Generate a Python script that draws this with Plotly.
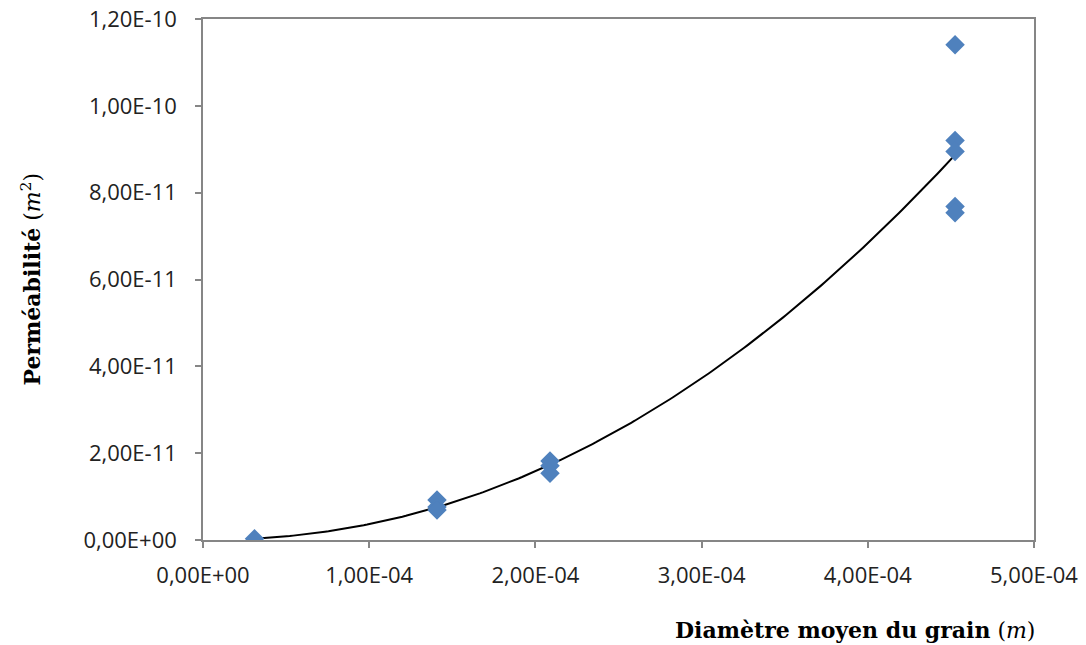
import numpy as np
import plotly.graph_objects as go

# Data
diametre = [3.1e-5,
            1.408e-4, 1.408e-4, 1.408e-4,
            2.088e-4, 2.088e-4, 2.088e-4,
            4.525e-4, 4.525e-4, 4.525e-4, 4.525e-4, 4.525e-4]
permeabilite = [0.3e-12,
                9.2e-12, 7.6e-12, 6.9e-12,
                18.2e-12, 17.1e-12, 15.4e-12,
                114.1e-12, 92.0e-12, 89.5e-12, 76.8e-12, 75.4e-12]

x_ticks = [0, 1e-4, 2e-4, 3e-4, 4e-4, 5e-4]
x_tick_labels = ["0,00E+00", "1,00E-04", "2,00E-04", "3,00E-04", "4,00E-04", "5,00E-04"]
y_ticks = [0, 2e-11, 4e-11, 6e-11, 8e-11, 1e-10, 1.2e-10]
y_tick_labels = ["0,00E+00", "2,00E-11", "4,00E-11", "6,00E-11", "8,00E-11", "1,00E-10", "1,20E-10"]

# Power trendline (as Excel's) fitted on the data
xd = np.array(diametre)
yd = np.array(permeabilite)
b, ln_a = np.polyfit(np.log(xd), np.log(yd), 1)
xt = np.linspace(xd.min(), xd.max(), 200)
yt = np.exp(ln_a) * xt ** b

fig = go.Figure()
fig.add_trace(go.Scatter(x=xt, y=yt, mode="lines",
                         line=dict(color="black", width=2), hoverinfo="skip"))
fig.add_trace(go.Scatter(x=diametre, y=permeabilite, mode="markers",
                         marker=dict(symbol="diamond", size=15, color="#4F81BD",
                                     line=dict(width=0))))

axis_common = dict(showline=True, linecolor="#868686", linewidth=1.5, mirror=True,
                   ticks="outside", ticklen=6, tickcolor="#868686", tickwidth=1.5,
                   showgrid=False, zeroline=False, ticklabeloverflow="allow",
                   automargin=False,
                   tickfont=dict(family="Open Sans, Liberation Sans, sans-serif",
                                 size=22, color="#222"))

fig.update_xaxes(range=[0, 5.0001e-4], tickvals=x_ticks, ticktext=x_tick_labels,
                 ticklabelstandoff=9, **axis_common)
fig.update_yaxes(range=[0, 1.20012e-10], tickvals=y_ticks, ticktext=y_tick_labels,
                 ticklabelstandoff=14, **axis_common)

serif = "DejaVu Serif, Liberation Serif, serif"
fig.add_annotation(xref="paper", yref="paper", x=0, y=0.5, xshift=-173,
                   xanchor="center", yanchor="middle", textangle=-90, showarrow=False,
                   text="<b>Perméabilité</b> (<i>m</i><sup>2</sup>)",
                   font=dict(family=serif, size=22, color="black"))
fig.add_annotation(xref="paper", yref="paper", x=1.0, y=0, yshift=-90, xshift=3,
                   xanchor="right", yanchor="middle", showarrow=False,
                   text="<b>Diamètre moyen du grain</b> (<i>m</i>)",
                   font=dict(family=serif, size=22, color="black"))

fig.update_layout(width=1086, height=645, showlegend=False,
                  plot_bgcolor="white", paper_bgcolor="white",
                  margin=dict(l=203, r=52, t=19, b=105, autoexpand=False))

fig.write_html("out.html", config={"displayModeBar": False},
               post_script="document.body.style.margin='0';document.body.style.overflow='hidden';")
